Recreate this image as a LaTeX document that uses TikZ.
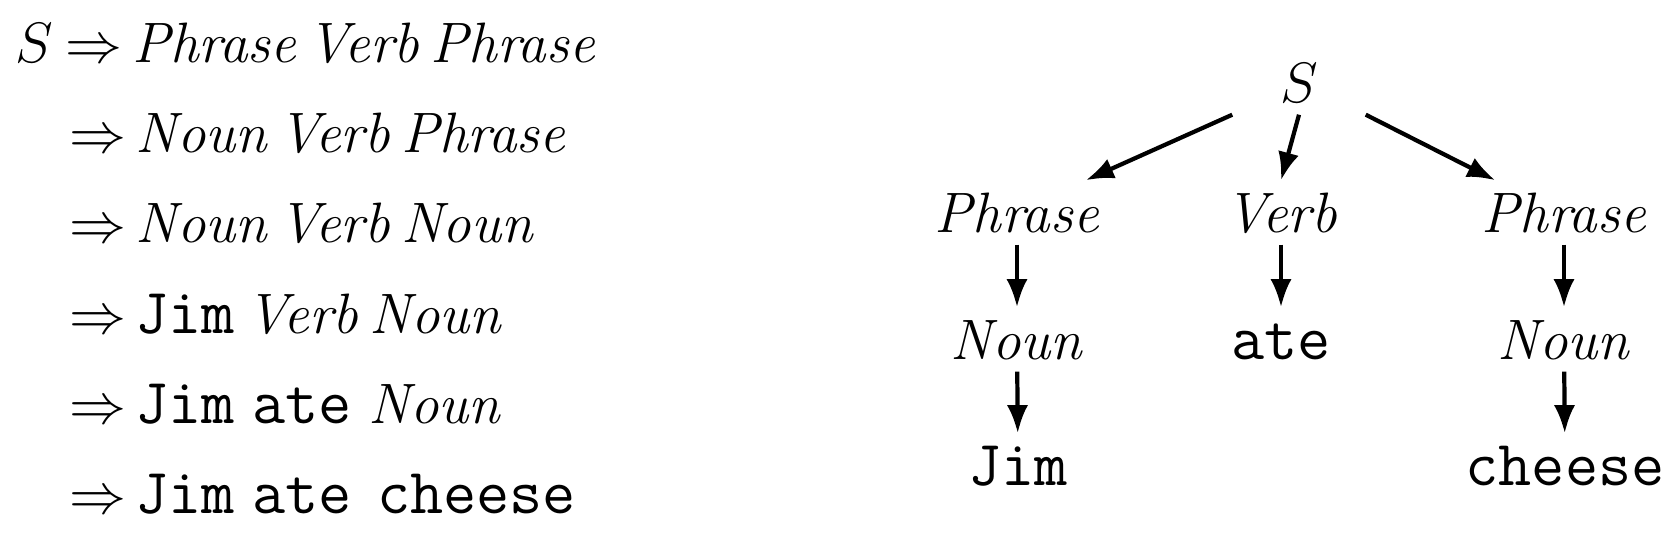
\RequirePackage{fix-cm}
\documentclass[tikz,border=0pt]{standalone}
\usepackage{amsmath}
\usetikzlibrary{arrows.meta}
\newcommand{\syn}[1]{\textit{\spaceskip=0.2em\relax #1}}
\newcommand{\lex}[1]{{\fontsize{18.3}{21}\selectfont\ttfamily #1}}
\newcommand{\yields}{$\phantom{S}\Rightarrow\mkern3mu$}

\begin{document}
\begin{tikzpicture}[x=0.01cm, y=-0.01cm,
        every node/.style={font=\fontsize{16.2}{19}\selectfont},
        deriv/.style={anchor=base west, inner sep=0pt},
        tnode/.style={anchor=base, inner xsep=0pt, inner ysep=0.12cm, text height=0.39cm, text depth=0pt},
        branch/.style={-{Latex[length=8pt,width=6pt]}, line width=1.2pt}]
        \useasboundingbox (0,0) rectangle (1675,536);
        % derivation
        \node[deriv] (d1) at (15, 62) {$S\mkern-1mu\Rightarrow\mkern3mu$\syn{Phrase Verb Phrase}};
        \node[deriv] (d2) at (15,152) {\yields\syn{Noun Verb Phrase}};
        \node[deriv] (d3) at (15,242) {\yields\syn{Noun Verb Noun}};
        \node[deriv] (d4) at (15,333) {\yields\lex{Jim}\syn{ Verb Noun}};
        \node[deriv] (d5) at (15,423) {\yields\lex{Jim} \lex{ate} \syn{Noun}};
        \node[deriv] (d6) at (15,513) {\yields\lex{Jim} \lex{ate}\hspace{0.45em}\lex{cheese}};
        % parse tree
        \node[tnode, minimum width=1.32cm] (s) at (1299,102) {$S$};
        \node[tnode] (p1)  at (1017,232) {\syn{Phrase}};
        \node[tnode] (v)   at (1281,232) {\syn{Verb}};
        \node[tnode] (p2)  at (1564,232) {\syn{Phrase}};
        \node[tnode] (n1)  at (1017,359) {\syn{Noun}};
        \node[tnode] (ate) at (1281,359) {\lex{ate}};
        \node[tnode] (n2)  at (1564,359) {\syn{Noun}};
        \node[tnode] (jim) at (1018,485) {\lex{Jim}};
        \node[tnode] (chs) at (1565,485) {\lex{cheese}};
        \draw[branch] (s.south west) -- ([xshift=-4pt]p1.north east);
        \draw[branch] (s.south)      -- (v.north);
        \draw[branch] (s.south east) -- ([xshift=4pt]p2.north west);
        \draw[branch] (p1) -- (n1);
        \draw[branch] (v)  -- (ate);
        \draw[branch] (p2) -- (n2);
        \draw[branch] (n1) -- (jim);
        \draw[branch] (n2) -- (chs);
\end{tikzpicture}
\end{document}
